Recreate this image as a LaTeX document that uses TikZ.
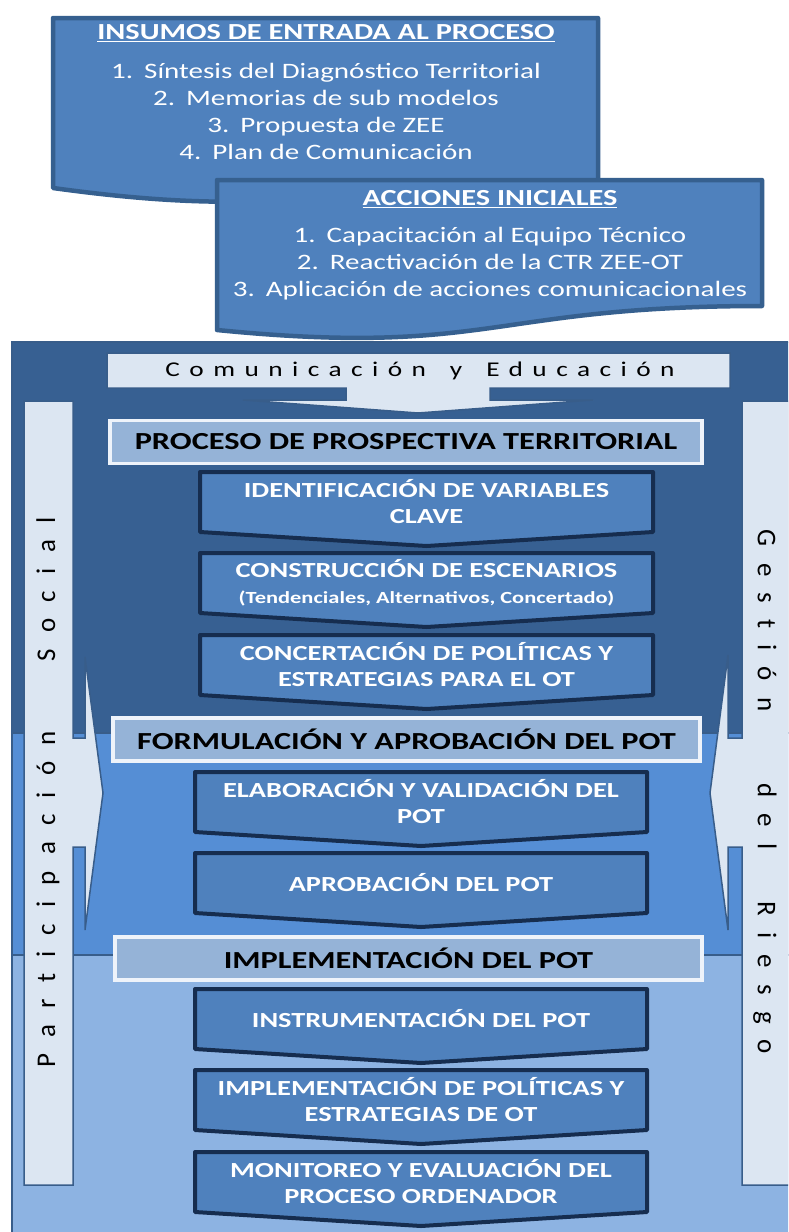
\documentclass[tikz,border=0pt]{standalone}
\usepackage{fontspec}
\setmainfont{Carlito}[FakeStretch=1.32]
\newfontfamily\lsfont{Carlito}[FakeStretch=1.3,LetterSpace=45,Ligatures=NoCommon]
\newfontfamily\sidefont{Carlito}[LetterSpace=60,Ligatures=NoCommon]
\definecolor{boxFill}{HTML}{4F81BD}
\definecolor{boxLine}{HTML}{36608F}
\definecolor{secTop}{HTML}{376092}
\definecolor{secMid}{HTML}{558ED5}
\definecolor{secBot}{HTML}{8DB3E2}
\definecolor{secLine}{HTML}{385D8A}
\definecolor{lightBar}{HTML}{DCE6F2}
\definecolor{hdrFill}{HTML}{95B3D7}
\definecolor{hdrLine}{HTML}{EEF3FA}
\definecolor{stepLine}{HTML}{162D4F}
\tikzset{
  docbox/.style={fill=boxFill, draw=boxLine, line width=4.5pt, line join=round},
  sec/.style={draw=secLine, line width=1.5pt},
  callout/.style={fill=lightBar, draw=secLine, line width=1.5pt},
  chev/.style={fill=boxFill, draw=stepLine, line width=4pt, line join=round},
  steptext/.style={text=white, font=\bfseries\fontsize{21.5}{26}\selectfont, align=center, inner sep=0pt},
  header/.style={fill=hdrFill, draw=hdrLine, line width=3.5pt, font=\bfseries\fontsize{24.5}{28}\selectfont, text=black, inner sep=0pt},
  boxtext/.style={text=white, align=center, inner sep=0pt, font=\fontsize{22}{27}\selectfont},
  boxtitle/.style={text=white, inner sep=0pt, font=\bfseries\fontsize{23}{27}\selectfont},
  sidetext/.style={text=black, inner sep=0pt, font=\sidefont\fontsize{27}{30}\selectfont},
}
\newcommand{\chevbox}[5]{%
  \draw[chev] (#2,#4) -- (#3,#4) -- (#3,#4+60) -- ({(#2+#3)/2},#4+74) -- (#2,#4+60) -- cycle;
  \node[steptext] (#1) at ({(#2+#3)/2},#4+30) {#5};}
\begin{document}
\begin{tikzpicture}[x=1pt,y=-1pt]
\useasboundingbox (0,0) rectangle (788,1232);
\clip (0,0) rectangle (788,1232);
\fill[white] (0,0) rectangle (788,1232);
% input boxes (document shapes)
\draw[docbox] (53,18) -- (598,18) -- (598,182) .. controls (330,182) and (300,222) .. (53,188) -- cycle;
\node[boxtitle] (insTitle) at (326,33) {\underline{INSUMOS DE ENTRADA AL PROCESO}};
\node[boxtext] (insList) at (326,111) {1.\enspace Síntesis del Diagnóstico Territorial\\2.\enspace Memorias de sub modelos\\3.\enspace Propuesta de ZEE\\4.\enspace Plan de Comunicación};
\draw[docbox] (217,180) -- (762,180) -- (762,306) .. controls (489.5,306) and (489.5,357) .. (217,330) -- cycle;
\node[boxtitle] (accTitle) at (490,199) {\underline{ACCIONES INICIALES}};
\node[boxtext] (accList) at (490,264) {1.\enspace Capacitación al Equipo Técnico\\2.\enspace Reactivación de la CTR ZEE-OT\\3.\enspace Aplicación de acciones comunicacionales};
% sections
\filldraw[sec, fill=secTop] (12,342) rectangle (800,733);
\filldraw[sec, fill=secMid] (12,733) rectangle (800,955);
\filldraw[sec, fill=secBot] (12,955) rectangle (800,1240);
% communication callout
\draw[callout] (107,353) -- (730,353) -- (730,388) -- (490,388) -- (490,400) -- (593,400) -- (418,413) -- (243,400) -- (346,400) -- (346,388) -- (107,388) -- cycle;
\node[font=\lsfont\fontsize{21}{24}\selectfont, text=black, inner sep=0pt] (com) at (420,371) {Comunicación\hspace{24pt}y\hspace{24pt}Educación};
% side callouts
\draw[callout] (24,401) -- (73,401) -- (73,738) -- (85,738) -- (85,657) -- (103,793) -- (85,930) -- (85,847) -- (73,847) -- (73,1185) -- (24,1185) -- cycle;
\draw[callout] (800,401) -- (742,401) -- (742,738) -- (728,738) -- (728,655) -- (710,793) -- (728,930) -- (728,847) -- (742,847) -- (742,1185) -- (800,1185) -- cycle;
\node[sidetext, rotate=90] (sideL) at (48,792) {Participación\hspace{70pt}Social};
\node[sidetext, rotate=-90] (sideR) at (765,792) {Gestión\hspace{72pt}del\hspace{52pt}Riesgo};
% headers
\node[header, minimum width=592, minimum height=43] (hProc) at (406,442) {PROCESO DE PROSPECTIVA TERRITORIAL};
\node[header, minimum width=587, minimum height=43] (hForm) at (406.5,739.5) {FORMULACIÓN Y APROBACIÓN DEL POT};
\node[header, minimum width=587, minimum height=43] (hImpl) at (408.5,958.5) {IMPLEMENTACIÓN DEL POT};
% steps
\chevbox{s1}{200}{653}{472}{IDENTIFICACIÓN DE VARIABLES\\CLAVE}
\chevbox{s2}{200}{653}{553}{CONSTRUCCIÓN DE ESCENARIOS\\{\fontsize{17}{22}\selectfont(Tendenciales, Alternativos, Concertado)}}
\chevbox{s3}{200}{653}{635}{CONCERTACIÓN DE POLÍTICAS Y\\ESTRATEGIAS PARA EL OT}
\chevbox{s4}{195}{647}{772}{ELABORACIÓN Y VALIDACIÓN DEL\\POT}
\chevbox{s5}{195}{647}{853}{APROBACIÓN DEL POT}
\chevbox{s6}{195}{647}{989}{INSTRUMENTACIÓN DEL POT}
\chevbox{s7}{195}{647}{1070}{IMPLEMENTACIÓN DE POLÍTICAS Y\\ESTRATEGIAS DE OT}
\chevbox{s8}{195}{647}{1152}{MONITOREO Y EVALUACIÓN DEL\\PROCESO ORDENADOR}
\end{tikzpicture}
\end{document}
